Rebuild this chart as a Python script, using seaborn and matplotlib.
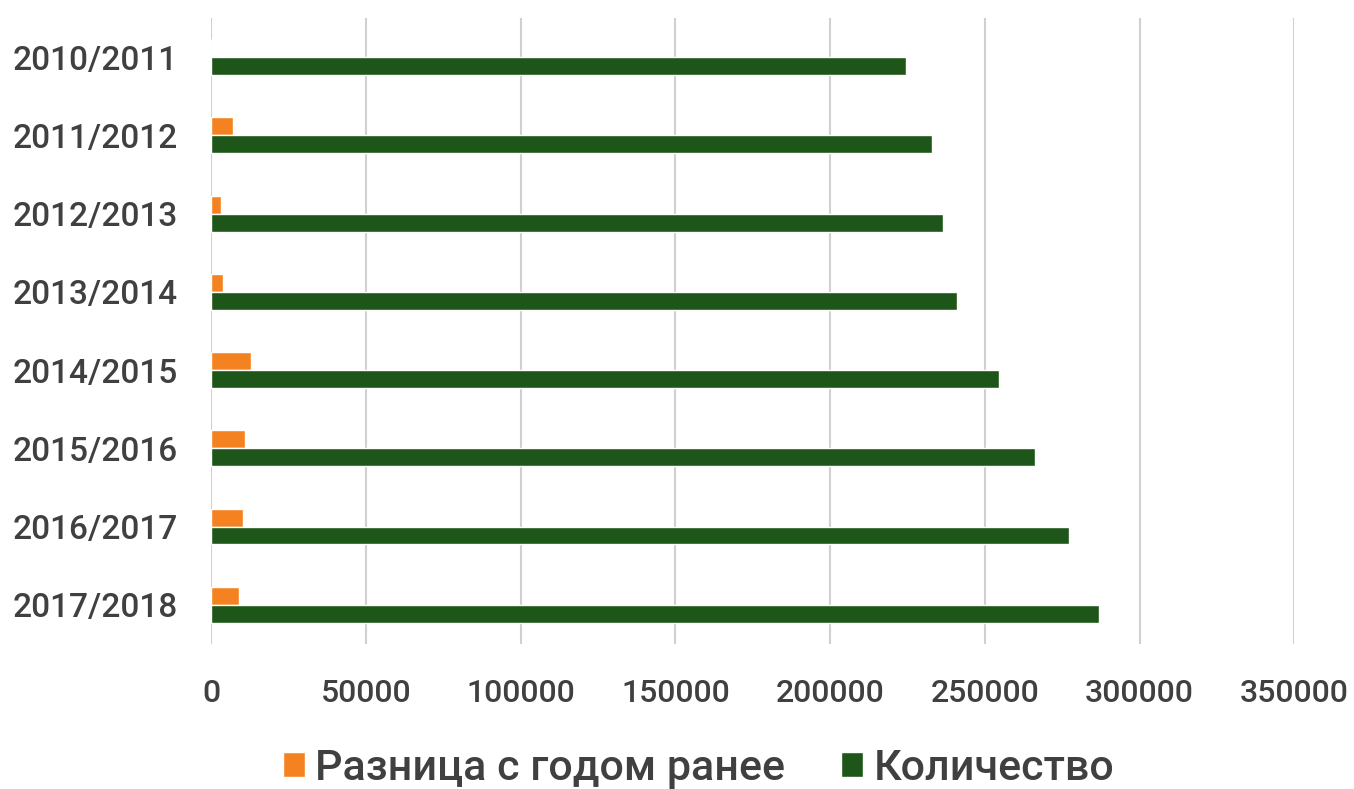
import pandas as pd
import matplotlib.pyplot as plt
import seaborn as sns

# Data
years = ['2010/2011', '2011/2012', '2012/2013', '2013/2014',
         '2014/2015', '2015/2016', '2016/2017', '2017/2018']
diff_prev = [0, 7000, 3300, 3900, 12800, 10900, 10200, 9100]
quantity = [224500, 232800, 236600, 241000, 254400, 266300, 277100, 286800]
series_names = ['Разница с годом ранее', 'Количество']
x_ticks = [0, 50000, 100000, 150000, 200000, 250000, 300000, 350000]

df = pd.DataFrame({
    'year': years * 2,
    'value': diff_prev + quantity,
    'series': [series_names[0]] * len(years) + [series_names[1]] * len(years),
})

sns.set_theme(style='white')
plt.rcParams['font.family'] = ['Roboto', 'DejaVu Sans']
plt.rcParams['font.weight'] = 'medium'

text_color = '#404040'
palette = {series_names[0]: '#F58220', series_names[1]: '#1D5618'}

fig = plt.figure(figsize=(13.54, 7.89), dpi=100)
ax = fig.add_axes([0.156, 0.184, 0.8, 0.793])

sns.barplot(data=df, x='value', y='year', hue='series', hue_order=series_names,
            palette=palette, orient='h', width=0.46, dodge=True, ax=ax,
            saturation=1, legend=True)

ax.set_xlim(0, 350000)
ax.set_ylim(7.5, -0.5)
ax.set_xticks(x_ticks)
ax.set_xticklabels([str(t) for t in x_ticks])
ax.set_xlabel('')
ax.set_ylabel('')
ax.grid(axis='x', color='#D0D0D0', linewidth=1.5)
ax.grid(axis='y', visible=False)
ax.set_axisbelow(True)
for s in ax.spines.values():
    s.set_visible(False)

ax.tick_params(axis='x', length=8, width=1.5, color='#D0D0D0', pad=17,
               labelsize=23, labelcolor=text_color)
ax.tick_params(axis='y', length=0, pad=24, labelsize=24, labelcolor=text_color)

handles, labels = ax.get_legend_handles_labels()
ax.get_legend().remove()
fig.legend(handles, labels, loc='center', bbox_to_anchor=(0.516, 0.026),
           ncol=2, frameon=False, fontsize=31, handlelength=0.5, handleheight=0.5,
           handletextpad=0.25, columnspacing=1.3, labelcolor=text_color)

fig.savefig('out.png', dpi=100)
